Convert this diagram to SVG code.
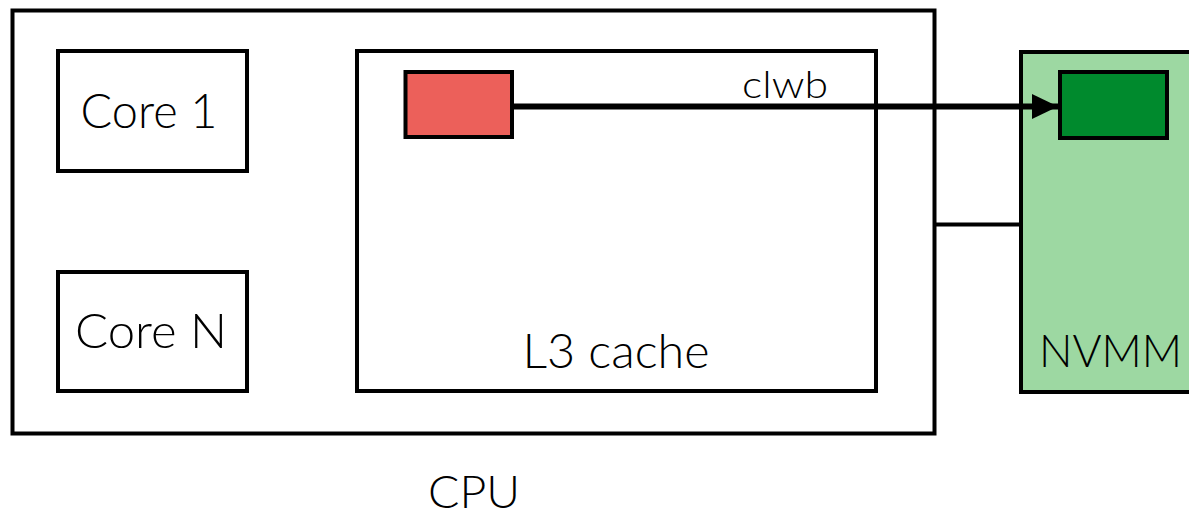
<svg xmlns="http://www.w3.org/2000/svg" width="1189" height="516" viewBox="0 0 1189 516">
  <style>
    .box { fill: #ffffff; stroke: #000000; stroke-width: 4; }
    .lbl { font-family: Lato, "Liberation Sans", Arial, sans-serif; font-weight: 300; fill: #000000; }
    .conn { stroke: #000000; fill: none; }
  </style>
  <defs>
    <marker id="arrow" markerWidth="26" markerHeight="26" refX="26" refY="12.5" orient="auto" markerUnits="userSpaceOnUse">
      <path d="M0,0 L26,12.5 L0,25 Z" fill="#000000"/>
    </marker>
  </defs>
  <rect width="1189" height="516" fill="#ffffff"/>

  <g id="cpu">
    <rect class="box" x="12.5" y="10.5" width="922" height="423"/>
    <text class="lbl" x="474" y="508" font-size="46" text-anchor="middle" textLength="92" lengthAdjust="spacingAndGlyphs">CPU</text>
  </g>

  <g id="core1">
    <rect class="box" x="58" y="51" width="189" height="120"/>
    <text class="lbl" x="149" y="128" font-size="47" text-anchor="middle" textLength="137" lengthAdjust="spacingAndGlyphs">Core 1</text>
  </g>

  <g id="coreN">
    <rect class="box" x="58" y="272" width="189" height="119"/>
    <text class="lbl" x="151" y="348" font-size="47" text-anchor="middle" textLength="152" lengthAdjust="spacingAndGlyphs">Core N</text>
  </g>

  <g id="l3cache">
    <rect class="box" x="357" y="51" width="519" height="340"/>
    <text class="lbl" x="616" y="368" font-size="47" text-anchor="middle" textLength="187" lengthAdjust="spacingAndGlyphs">L3 cache</text>
  </g>

  <g id="cacheline">
    <rect x="405.5" y="72" width="106.5" height="65" fill="#EC605A" stroke="#000000" stroke-width="4"/>
  </g>

  <g id="nvmm">
    <rect x="1021" y="52" width="200" height="340" fill="#9DD8A2" stroke="#000000" stroke-width="4"/>
    <text class="lbl" x="1039" y="367" font-size="46" textLength="143" lengthAdjust="spacingAndGlyphs">NVMM</text>
  </g>

  <g id="nvmmline">
    <rect x="1060" y="72" width="107" height="66" fill="#008A2D" stroke="#000000" stroke-width="4"/>
  </g>

  <g id="connectors">
    <line class="conn" x1="512" y1="106.5" x2="1058" y2="106.5" stroke-width="6" marker-end="url(#arrow)"/>
    <text class="lbl" x="742" y="98" font-size="37" textLength="86" lengthAdjust="spacingAndGlyphs">clwb</text>
    <line class="conn" x1="934.5" y1="224.5" x2="1021" y2="224.5" stroke-width="4"/>
  </g>
</svg>
